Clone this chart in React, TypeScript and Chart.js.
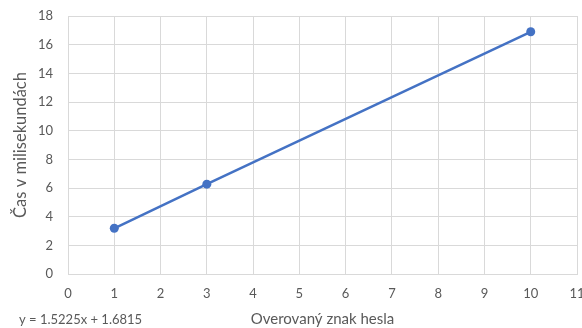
import React, { useEffect, useRef } from "react";
import { Chart, registerables } from "chart.js";

Chart.register(...registerables);

// Measured character position vs. time in milliseconds
const charPositions = [1, 3, 10];
const timesMs = [3.19, 6.27, 16.9];

// Linear trend fitted to the measurements
const trendSlope = 1.5225;
const trendIntercept = 1.6815;

const xTicks = { min: 0, max: 11, step: 1 };
const yTicks = { min: 0, max: 18, step: 2 };

const xTitle = "Overovaný znak hesla";
const yTitle = "Čas v milisekundách";

const FONT = "Lato, 'Open Sans', sans-serif";
const TEXT = "#595959";
const GRID = "#d9d9d9";
const BLUE = "#4472C4";

const equationPlugin = {
  id: "trendEquation",
  afterDraw(chart: Chart) {
    const ctx = chart.ctx;
    ctx.save();
    ctx.font = `13px ${FONT}`;
    ctx.fillStyle = TEXT;
    ctx.textBaseline = "middle";
    ctx.textAlign = "left";
    ctx.fillText(`y = ${trendSlope}x + ${trendIntercept}`, 19, 320);
    ctx.restore();
  },
};

export default function App() {
  const ref = useRef<HTMLCanvasElement>(null);

  useEffect(() => {
    document.body.style.margin = "0";
    const canvas = ref.current!;
    const chart = new Chart(canvas, {
      type: "scatter",
      data: {
        datasets: [
          {
            data: charPositions.map((x, i) => ({ x, y: timesMs[i] })),
            showLine: true,
            borderColor: BLUE,
            borderWidth: 2.5,
            backgroundColor: BLUE,
            pointBackgroundColor: BLUE,
            pointBorderWidth: 0,
            pointRadius: 4.5,
          },
        ],
      },
      options: {
        responsive: false,
        animation: false,
        layout: { padding: { top: 16, right: 5, left: 0, bottom: 0 } },
        plugins: { legend: { display: false }, tooltip: { enabled: false } },
        scales: {
          x: {
            type: "linear",
            min: xTicks.min,
            max: xTicks.max,
            ticks: {
              stepSize: xTicks.step,
              color: TEXT,
              font: { family: FONT, size: 13 },
              padding: 12,
              maxRotation: 0,
            },
            grid: { color: GRID, drawTicks: false },
            border: { color: GRID },
            title: {
              display: true,
              text: xTitle,
              color: TEXT,
              font: { family: FONT, size: 15 },
              padding: { top: 0, bottom: 0 },
            },
            afterFit(scale: any) {
              scale.height = 54;
              scale.paddingLeft = 0;
              scale.paddingRight = 0;
            },
          },
          y: {
            min: yTicks.min,
            max: yTicks.max,
            ticks: {
              stepSize: yTicks.step,
              color: TEXT,
              font: { family: FONT, size: 13 },
              padding: 15,
            },
            grid: { color: GRID, drawTicks: false },
            border: { color: GRID },
            title: {
              display: true,
              text: yTitle,
              color: TEXT,
              font: { family: FONT, size: 16.5 },
              padding: { top: 11, bottom: 0 },
            },
            afterFit(scale: any) {
              scale.width = 68;
              scale.paddingTop = 0;
              scale.paddingBottom = 0;
            },
          },
        },
      },
      plugins: [equationPlugin],
    });
    return () => chart.destroy();
  }, []);

  return (
    <div style={{ width: 582, height: 328, overflow: "hidden", background: "#fff" }}>
      <canvas ref={ref} width={582} height={328} style={{ display: "block" }} />
    </div>
  );
}
